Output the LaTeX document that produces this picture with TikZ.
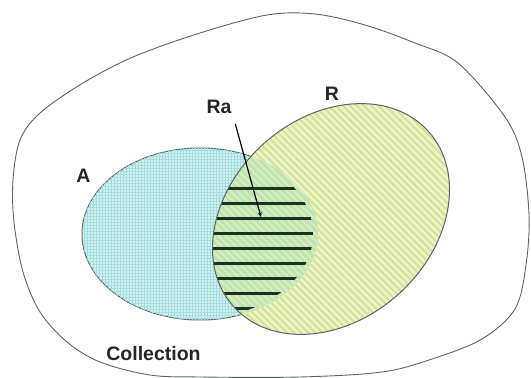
\documentclass[tikz,border=0pt]{standalone}
\usepackage{fontspec}
\setmainfont{Liberation Sans}
\usetikzlibrary{arrows.meta, patterns.meta}
\definecolor{afill}{HTML}{D2F2F2}
\definecolor{agrid}{HTML}{A2DCDC}
\definecolor{rfill}{HTML}{EEF4C8}
\definecolor{rline}{HTML}{D2E296}
\definecolor{rafill}{HTML}{BEE4B0}
\definecolor{raline}{HTML}{DCEEC4}
\definecolor{edge}{HTML}{5A6666}
\definecolor{barcol}{HTML}{1E3020}
\tikzset{
  setlabel/.style={font=\fontsize{19.5}{22}\selectfont\bfseries, text=black!85, inner sep=1pt},
  outline/.style={draw=edge, line width=1pt},
  afilled/.style={fill=afill, postaction={pattern={Hatch[angle=0,distance=3pt,line width=0.6pt]}, pattern color=agrid}},
  rfilled/.style={fill=rfill, postaction={pattern={Lines[angle=-45,distance=5pt,line width=2pt]}, pattern color=rline}},
  rafilled/.style={fill=rafill, postaction={pattern={Lines[angle=-45,distance=5pt,line width=1.6pt]}, pattern color=raline}},
  bar/.style={line width=3pt, draw=barcol},
  pointer/.style={line width=1.2pt, -{Stealth[length=5pt,width=4pt]}, shorten <=10pt}
}
\begin{document}
\begin{tikzpicture}[x=1pt, y=-1pt]
  \fill[white] (0,0) rectangle (531,378);
  \useasboundingbox (0,0) rectangle (531,378);
  % Collection
  \draw[outline, line width=0.9pt] plot[smooth cycle, tension=0.55] coordinates {
    (267,15) (315,14) (365,25) (415,43) (458,63) (505,117) (522,157) (529,215)
    (526,265) (515,309) (482,339) (432,359) (382,372) (300,377) (200,377)
    (150,375) (100,362) (67,342) (40,312) (23,272) (14,222) (13,180) (20,140)
    (40,113) (83,83) (133,57) (200,33)};
  % set A
  \path[afilled, outline] (200,234) ellipse (118 and 86);
  % set R
  \path[rfilled] [rotate around={42:(331,219)}] (331,219) ellipse (131 and 101);
  % intersection Ra
  \begin{scope}
    \clip (200,234) ellipse (118 and 86);
    \clip[rotate around={42:(331,219)}] (331,219) ellipse (131 and 101);
    \path[rafilled] (80,140) rectangle (460,340);
    \clip (199,234) ellipse (114 and 84);
    \foreach \y in {188,203,...,308}
      \draw[bar] (200,\y) -- (330,\y);
  \end{scope}
  \draw[outline] [rotate around={42:(331,219)}] (331,219) ellipse (131 and 101);
  % labels
  \node[setlabel, anchor=base] (A) at (83.5,182) {A};
  \node[setlabel, anchor=base] (R) at (332,100) {R};
  \node[setlabel, anchor=base] (Ra) at (219,113) {Ra};
  \node[setlabel, anchor=base] (coll) at (153.5,360) {Collection};
  \coordinate (ratip) at (261,217);
  \draw[pointer] (Ra.south east) -- (ratip);
\end{tikzpicture}
\end{document}
